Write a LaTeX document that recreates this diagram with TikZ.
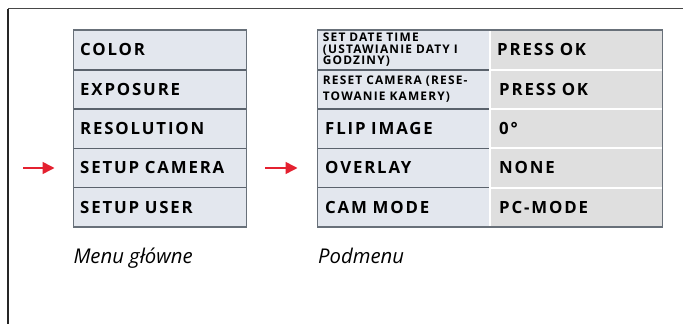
\documentclass[tikz,border=0pt]{standalone}
\usepackage{fontspec}
\setmainfont{Open Sans}
\newfontfamily\bigfam[LetterSpace=11]{Open Sans}
\newfontfamily\smallfam[LetterSpace=10]{Open Sans}
\usetikzlibrary{arrows.meta}
\definecolor{lfill}{HTML}{E3E7EE}
\definecolor{rfill}{HTML}{DFDFDF}
\definecolor{bord}{HTML}{687079}
\definecolor{sepc}{HTML}{5A626C}
\definecolor{arrc}{HTML}{E42130}
\definecolor{topc}{HTML}{474747}
\definecolor{leftc}{HTML}{262626}
\newcommand{\bigf}{\bigfam\fontsize{16.8}{19}\selectfont\bfseries}
\newcommand{\smallf}{\smallfam\fontsize{11.9}{11.7}\selectfont\bfseries}
\begin{document}
\begin{tikzpicture}[x=1pt,y=-1pt,
  cellbase/.style={anchor=north west, inner ysep=0pt, minimum height=39.3pt, align=left},
  cellL/.style={cellbase, fill=lfill, inner xsep=6.7pt, text width=159.3pt, font=\bigf},
  cellA/.style={cellbase, fill=lfill, inner xsep=7.7pt, text width=157.3pt, font=\bigf},
  cellAs/.style={cellbase, fill=lfill, inner xsep=5.4pt, text width=161.9pt, font=\smallf},
  cellB/.style={cellbase, fill=rfill, inner xsep=9pt, text width=154.3pt, font=\bigf},
  caption/.style={anchor=base west, inner sep=0pt, font=\fontsize{20.3}{24}\selectfont\itshape},
  redarrow/.style={arrc, line width=1.6pt, -{Triangle[length=12pt,width=12pt]}},
  outline/.style={bord, line width=1.5pt},
  darksep/.style={sepc, line width=1.6pt},
  whitesep/.style={white, line width=2pt}]
\useasboundingbox (0,0) rectangle (683,324);
% frame
\coordinate (f1) at (8,324);
\coordinate (f2) at (8,8.5);
\coordinate (f3) at (683,8.5);
\draw[leftc, line width=1.5pt] (f1) -- (f2);
\draw[topc, line width=1.5pt] (f2) -- (f3);
% main menu
\node[cellL] (m1) at (73.3,30) {COLOR};
\node[cellL] (m2) at (73.3,69.3) {EXPOSURE};
\node[cellL] (m3) at (73.3,108.6) {RESOLUTION};
\node[cellL] (m4) at (73.3,147.9) {SETUP CAMERA};
\node[cellL] (m5) at (73.3,187.2) {SETUP USER};
\foreach \n in {1,2,3,4} \draw[darksep] (m\n.south west) -- (m\n.south east);
\draw[outline] (m1.north west) rectangle (m5.south east);
% submenu
\node[cellAs] (a1) at (317.3,30) {SET DATE TIME\\(USTAWIANIE DATY I\\GODZINY)};
\node[cellAs] (a2) at (317.3,69.3) {\vspace*{1pt}RESET CAMERA (RESE-\\[4pt]TOWANIE KAMERY)};
\node[cellA] (a3) at (317.3,108.6) {FLIP IMAGE};
\node[cellA] (a4) at (317.3,147.9) {OVERLAY};
\node[cellA] (a5) at (317.3,187.2) {CAM MODE};
\node[cellB, inner xsep=7pt, text width=158.3pt] (b1) at (490,30) {PRESS OK};
\node[cellB] (b2) at (490,69.3) {PRESS OK};
\node[cellB] (b3) at (490,108.6) {0°};
\node[cellB] (b4) at (490,147.9) {NONE};
\node[cellB] (b5) at (490,187.2) {PC-MODE};
\foreach \n in {1,2,3,4} {
  \draw[whitesep] (b\n.south west) -- (b\n.south east);
  \draw[darksep] (a\n.south west) -- ([xshift=1pt]a\n.south east);
}
\draw[whitesep, line width=1.6pt] (b1.north west) -- (b5.south west);
\draw[outline] (a1.north west) rectangle (b5.south east);
% arrows
\coordinate (r1s) at (23,168);
\coordinate (r1e) at (54.5,168);
\coordinate (r2s) at (265,168);
\coordinate (r2e) at (297.5,168);
\draw[redarrow] (r1s) -- (r1e);
\draw[redarrow] (r2s) -- (r2e);
% captions
\node[caption] (c1) at (73.3,263) {Menu główne};
\node[caption] (c2) at (318,263) {Podmenu};
\end{tikzpicture}
\end{document}
